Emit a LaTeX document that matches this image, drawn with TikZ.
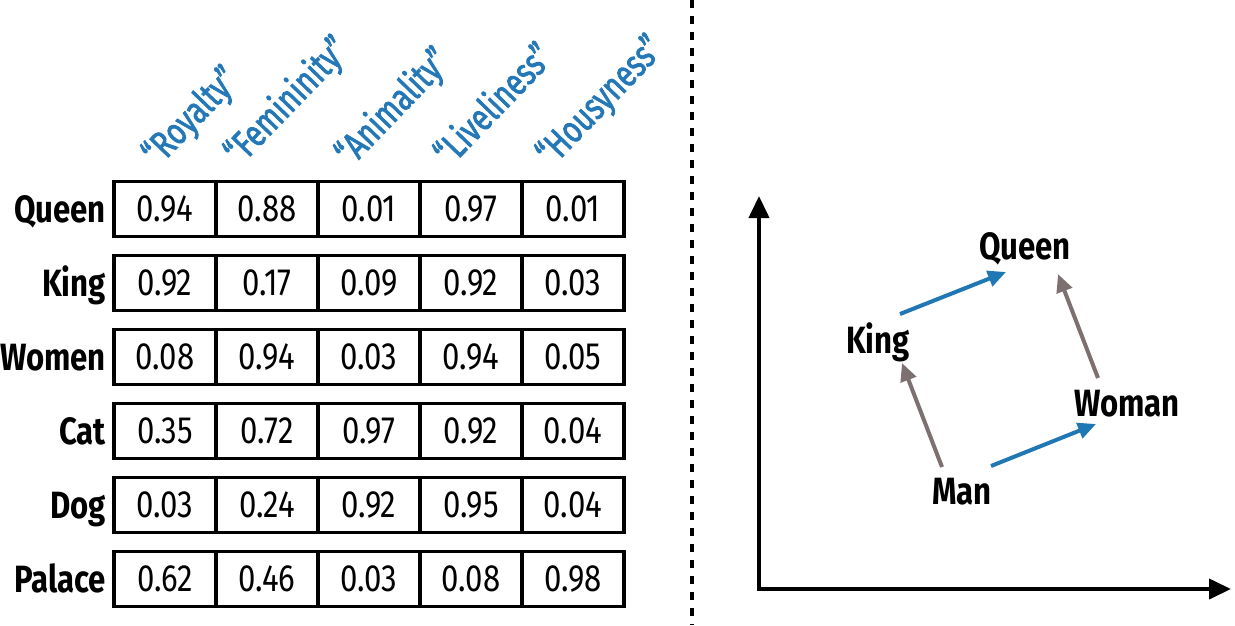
\documentclass[tikz,border=0pt]{standalone}
\usepackage{fontspec}
\setmainfont{Fira Sans}[FakeStretch=0.82]
\newfontfamily\hdrfont{Fira Sans}[FakeStretch=0.76,FakeBold=2]
\usetikzlibrary{arrows.meta}
\definecolor{hdrblue}{RGB}{36,120,184}
\definecolor{vecblue}{RGB}{31,119,180}
\definecolor{vecgray}{RGB}{125,112,112}
\begin{document}
\begin{tikzpicture}[x=1pt,y=-1pt,
  cell/.style={draw,line width=3.5pt,minimum width=102pt,minimum height=55pt,inner sep=0pt,outer sep=0pt,font=\fontsize{38}{40}\selectfont},
  rowlabel/.style={anchor=base east,inner sep=0pt,font=\fontsize{38}{40}\selectfont\bfseries},
  hdr/.style={anchor=base west,rotate=46,inner sep=0pt,text=hdrblue,font=\fontsize{38}{40}\hdrfont},
  word/.style={inner sep=0pt,font=\fontsize{38}{40}\selectfont\bfseries},
  axis/.style={line width=4pt,{Triangle[length=22pt,width=20pt]}-{Triangle[length=22pt,width=20pt]}},
  bluevec/.style={vecblue,line width=4pt,-{Triangle[length=18pt,width=16pt]}},
  grayvec/.style={vecgray,line width=4pt,-{Triangle[length=18pt,width=16pt]}},
  divider/.style={line width=3.5pt,dash pattern=on 8pt off 8pt}]
\useasboundingbox (0,0) rectangle (1235,625);
% headers
\node[hdr] (h1) at (158,168) {“Royalty”};
\node[hdr] (h2) at (240,167) {“Femininity”};
\node[hdr] (h3) at (351,168) {“Animality”};
\node[hdr] (h4) at (450,168) {“Liveliness”};
\node[hdr] (h5) at (552,168) {“Housyness”};
% table
\foreach \r/\lab/\y/\a/\b/\c/\d/\e in {
  1/Queen/209/0.94/0.88/0.01/0.97/0.01,
  2/King/283/0.92/0.17/0.09/0.92/0.03,
  3/Women/357/0.08/0.94/0.03/0.94/0.05,
  4/Cat/431/0.35/0.72/0.97/0.92/0.04,
  5/Dog/505/0.03/0.24/0.92/0.95/0.04,
  6/Palace/579/0.62/0.46/0.03/0.08/0.98}{
  \node[rowlabel] (lab\r) at (106,\y+13) {\lab};
  \node[cell] (c\r-1) at (165,\y) {\a};
  \node[cell] (c\r-2) at (267,\y) {\b};
  \node[cell] (c\r-3) at (369,\y) {\c};
  \node[cell] (c\r-4) at (471,\y) {\d};
  \node[cell] (c\r-5) at (573,\y) {\e};
}
% divider
\coordinate (dtop) at (692,0);
\coordinate (dbot) at (692,625);
\draw[divider] (dtop) -- (dbot);
% axes
\coordinate (ytop) at (759,196);
\coordinate (O) at (759,589);
\coordinate (xend) at (1231,589);
\draw[axis] (ytop) -- (O) -- (xend);
% words
\node[word] (Queen) at (1025,249) {Queen};
\node[word] (King) at (878,342) {King};
\node[word] (Woman) at (1127,404) {Woman};
\node[word] (Man) at (962,492) {Man};
% vectors
\draw[bluevec] ([shift={(22,-28)}]King.center) -- ([shift={(-19,23)}]Queen.center);
\draw[bluevec] ([shift={(29,-26)}]Man.center) -- ([shift={(-31,20)}]Woman.center);
\draw[grayvec] ([shift={(-20,-25)}]Man.center) -- ([shift={(24,21)}]King.center);
\draw[grayvec] ([shift={(-29,-26)}]Woman.center) -- ([shift={(33,25)}]Queen.center);
\end{tikzpicture}
\end{document}
